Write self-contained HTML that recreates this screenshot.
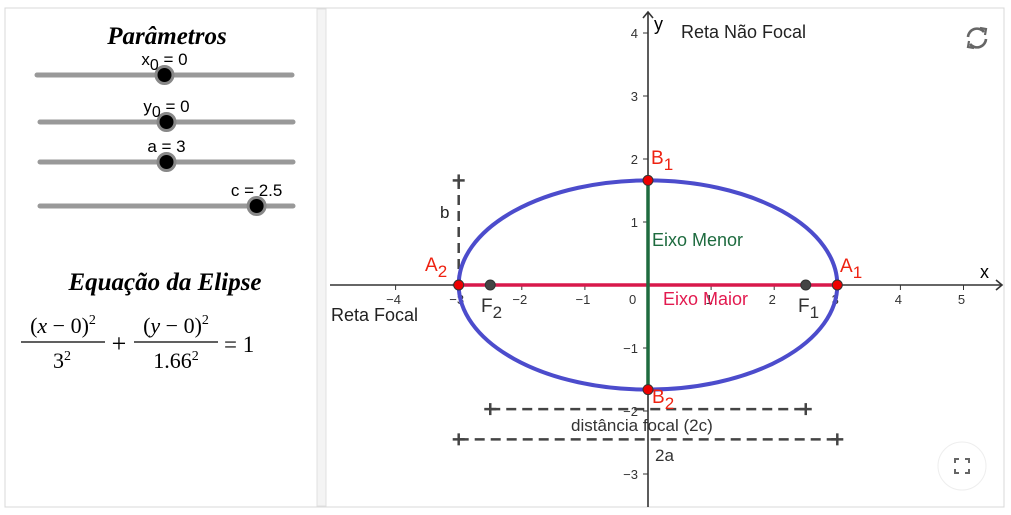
<!DOCTYPE html>
<html><head><meta charset="utf-8"><style>
body{margin:0;background:#fff;width:1011px;height:515px;overflow:hidden;font-family:"Liberation Sans",sans-serif}
svg{position:absolute;left:0;top:0}
</style></head><body>
<svg width="1011" height="515">
<rect x="5" y="8" width="999" height="499" fill="#fff" stroke="#d8d8d8"/>
<rect x="317" y="9" width="9" height="497" fill="#f4f4f4" stroke="#e0e0e0"/>
<g>
<text x="167" y="44" text-anchor="middle" font-family="Liberation Serif" font-style="italic" font-weight="bold" font-size="25">Parâmetros</text>
</g>
<g id="sliders"></g>
<text x="165" y="290" text-anchor="middle" font-family="Liberation Serif" font-style="italic" font-weight="bold" font-size="25">Equação da Elipse</text>
<g font-family="Liberation Serif" font-size="22">
<text x="63" y="333" text-anchor="middle">(<tspan font-style="italic">x</tspan> − 0)<tspan dy="-9" font-size="14">2</tspan></text>
<line x1="21" y1="342" x2="105" y2="342" stroke="#000" stroke-width="1.2"/>
<text x="62" y="368" text-anchor="middle">3<tspan dy="-8" font-size="14">2</tspan></text>
<text x="119" y="352" text-anchor="middle" font-size="26">+</text>
<text x="176" y="333" text-anchor="middle">(<tspan font-style="italic">y</tspan> − 0)<tspan dy="-9" font-size="14">2</tspan></text>
<line x1="134" y1="342" x2="218" y2="342" stroke="#000" stroke-width="1.2"/>
<text x="176" y="368" text-anchor="middle">1.66<tspan dy="-8" font-size="14">2</tspan></text>
<text x="224" y="352" font-size="23">= 1</text>
</g>
<g id="graph"></g>
<g transform="translate(977,38)" fill="none" stroke="#666" stroke-width="2.6">
<path d="M-9,-1 A9,9 0 0 1 7,-6"/><path d="M9,1 A9,9 0 0 1 -7,6"/>
<path d="M3,-10 L9,-9 L8,-3" stroke-width="2.2"/><path d="M-3,10 L-9,9 L-8,3" stroke-width="2.2"/>
</g>
<g>
<circle cx="962" cy="466" r="24" fill="#fff" stroke="#eee"/>
<path d="M955,463v-4h4M965,459h4v4M969,469v4h-4M959,473h-4v-4" fill="none" stroke="#666" stroke-width="2"/>
</g>
</svg>
<script>
const NS="http://www.w3.org/2000/svg";
const sliderNames=["x0","y0","a","c"];
const sliderValues=[0,0,3,2.5];
const sliderMin=[-5,-5,0,0];
const sliderMax=[5,5,6,2.92];
const a=3, b=1.66, c=2.5;
const xTicks=[-4,-3,-2,-1,1,2,3,4,5];
const yTicks=[-3,-2,-1,1,2,3,4];
function mk(t,at,p){const e=document.createElementNS(NS,t);for(const k in at)e.setAttribute(k,at[k]);(p||document.getElementById('graph')).appendChild(e);return e;}
const sg=document.getElementById('sliders');
const sy=[75,122,162,206], sx1=[37,40,40,40], sx2=[292,293,293,293];
sliderNames.forEach((n,i)=>{
 const g=mk('g',{},sg);
 
 
 mk('line',{x1:sx1[i],y1:sy[i],x2:sx2[i],y2:sy[i],stroke:'#999','stroke-width':5,'stroke-linecap':'round'},g);
 const px=sx1[i]+(sliderValues[i]-sliderMin[i])/(sliderMax[i]-sliderMin[i])*(sx2[i]-sx1[i]);
 mk('circle',{cx:px,cy:sy[i],r:8.5,fill:'#000',stroke:'#888','stroke-width':3},g);
 const t=mk('text',{x:px,y:sy[i]-10,'text-anchor':'middle','font-size':17},g);
 if(i<2){t.innerHTML=(i==0?'x':'y')+'<tspan dy="5" font-size="16">0</tspan><tspan dy="-5"> = '+sliderValues[i]+'</tspan>';}
 else t.textContent=n+' = '+sliderValues[i];
});
const X=v=>648+v*63.1, Y=v=>285-v*63;
const ax=mk('g',{stroke:'#333','stroke-width':1.6});


mk('line',{x1:330,y1:285,x2:1002,y2:285},ax);
mk('path',{d:'M996,280L1002,285L996,290',fill:'none'},ax);
mk('line',{x1:648,y1:507,x2:648,y2:12},ax);
mk('path',{d:'M643,18L648,12L653,18',fill:'none'},ax);
xTicks.forEach(v=>{mk('line',{x1:X(v),y1:285,x2:X(v),y2:290,stroke:'#333'});
 const t=mk('text',{x:X(v)-2,y:304,'text-anchor':'middle','font-size':13,fill:'#333'});t.textContent=v<0?'−'+(-v):v;
 });
yTicks.forEach(v=>{mk('line',{x1:643,y1:Y(v),x2:648,y2:Y(v),stroke:'#333'});
 const t=mk('text',{x:638,y:Y(v)+5,'text-anchor':'end','font-size':13,fill:'#333'});t.textContent=v<0?'−'+(-v):v;
 });
let t=mk('text',{x:629,y:304,'font-size':13,fill:'#333'});t.textContent='0';
t=mk('text',{x:980,y:278,'font-size':18});t.textContent='x';
t=mk('text',{x:654,y:30,'font-size':18});t.textContent='y';
function dash(x1,y1,x2,y2,name){const g=mk('g',{stroke:'#444','stroke-width':2.5});
 mk('line',{x1,y1,x2,y2,'stroke-dasharray':'10,6'},g);
 [[x1,y1],[x2,y2]].forEach(p=>{mk('line',{x1:p[0]-6,y1:p[1],x2:p[0]+6,y2:p[1]},g);mk('line',{x1:p[0],y1:p[1]-6,x2:p[0],y2:p[1]+6},g);});}
dash(X(-a),Y(0),X(-a),Y(b),'b-segment');
dash(X(-c),Y(-1.97),X(c),Y(-1.97),'focal-distance-segment');
dash(X(-a),Y(-2.45),X(a),Y(-2.45),'2a-segment');
const el=mk('ellipse',{cx:X(0),cy:Y(0),rx:a*63.1,ry:b*63,fill:'none',stroke:'#4c4ccc','stroke-width':4});

const maj=mk('line',{x1:X(-a),y1:Y(0),x2:X(a),y2:Y(0),stroke:'#d8194b','stroke-width':3.5});

const mn=mk('line',{x1:X(0),y1:Y(b),x2:X(0),y2:Y(-b),stroke:'#1e6b3f','stroke-width':3.5});

function pt(x,y,col,name){const p=mk('circle',{cx:X(x),cy:Y(y),r:5,fill:col,stroke:'#333','stroke-width':1});}
pt(-c,0,'#444','focus-f2');pt(c,0,'#444','focus-f1');
pt(-a,0,'#e00','vertex-a2');pt(a,0,'#e00','vertex-a1');pt(0,b,'#e00','vertex-b1');pt(0,-b,'#e00','vertex-b2');
function lbl(x,y,s,sub,col,name,fs){const t=mk('text',{x,y,'font-size':fs||19,fill:col});t.innerHTML=s+(sub?'<tspan dy="6" font-size="17">'+sub+'</tspan>':'');}
lbl(651,164,'B','1','#e21','label-b1');lbl(652,403,'B','2','#e21','label-b2');
lbl(425,271,'A','2','#e21','label-a2');lbl(840,272,'A','1','#e21','label-a1');
lbl(481,312,'F','2','#333','label-f2');lbl(798,312,'F','1','#333','label-f1');
lbl(652,246,'Eixo Menor','','#1e6b3f','label-minor-axis',18);
lbl(663,305,'Eixo Maior','','#e21a4f','label-major-axis',18);
lbl(331,321,'Reta Focal','','#222','label-focal-line',18);
lbl(681,38,'Reta Não Focal','','#222','label-non-focal-line',18);
lbl(440,218,'b','','#222','label-b',17);
lbl(571,431,'distância focal (2c)','','#333','label-focal-distance',17);
lbl(655,461,'2a','','#333','label-2a',17);
</script>
</body></html>
